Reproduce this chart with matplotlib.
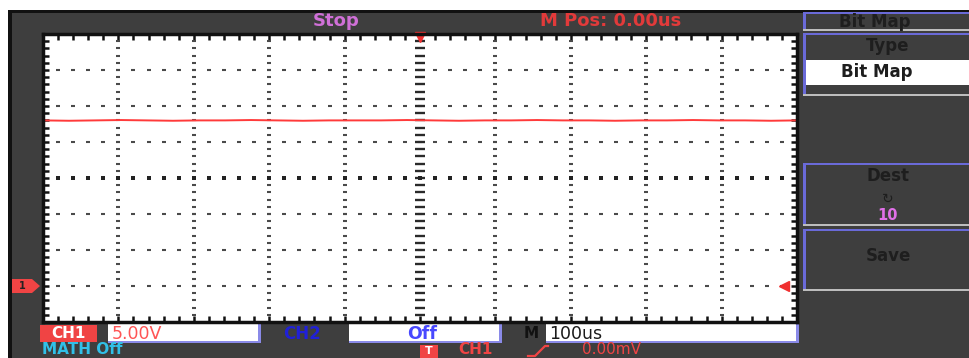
import numpy as np
import matplotlib
matplotlib.use("Agg")
import matplotlib.pyplot as plt
from matplotlib.patches import Rectangle, Polygon

# ---- data (in screen divisions) ----
trace_level = [1.60, 1.59, 1.60, 1.61, 1.60, 1.59, 1.60, 1.60, 1.61, 1.60,
               1.59, 1.60, 1.60, 1.60, 1.61, 1.60, 1.59, 1.60, 1.60, 1.61,
               1.60, 1.60, 1.59, 1.60, 1.60, 1.61, 1.60, 1.60, 1.59, 1.60]
ch1_ground_div = -3.0
trigger_pos_div = 0.0
status_text = "Stop"
mpos_text = "M Pos: 0.00us"
ch1_scale = "5.00V"
ch2_state = "Off"
timebase = "100us"
math_state = "MATH Off"
trig_level = "0.00mV"
menu_title = "Bit Map"
menu_items = ["Type", "Bit Map", "Dest", "10", "Save"]

W, H = 970, 358
fig = plt.figure(figsize=(W / 100, H / 100), dpi=100)
fig.patch.set_facecolor("white")

bg = fig.add_axes([0, 0, 1, 1])
bg.set_xlim(0, W)
bg.set_ylim(H, 0)
bg.axis("off")

DARK = "#3e3e3e"
bg.add_patch(Rectangle((8, 10), W - 8, H - 10, facecolor=DARK, edgecolor="none"))
bg.add_patch(Rectangle((8, 10), 4, H - 10, facecolor="#111111", edgecolor="none"))
bg.add_patch(Rectangle((8, 10), W - 8, 3, facecolor="#111111", edgecolor="none"))

FONT = "DejaVu Sans"
# top status texts
bg.text(313, 21, status_text, color="#d070d8", fontsize=13, family=FONT,
        weight="bold", va="center", ha="left")
bg.text(540, 21, mpos_text, color="#e23a3a", fontsize=13, family=FONT,
        weight="bold", va="center", ha="left")

# right menu
PURPLE = "#6a6ad8"
LIGHT = "#bdbdbd"
def menu_box(y0, y1):
    bg.add_patch(Rectangle((803, y0), W - 803, y1 - y0, facecolor=DARK, edgecolor="none"))
    bg.add_patch(Rectangle((803, y0), W - 803, 2, facecolor=PURPLE, edgecolor="none"))
    bg.add_patch(Rectangle((803, y0), 3, y1 - y0, facecolor=PURPLE, edgecolor="none"))
    bg.add_patch(Rectangle((803, y1 - 2), W - 803, 2, facecolor=LIGHT, edgecolor="none"))

menu_box(12, 31)
menu_box(33, 96)
bg.add_patch(Rectangle((806, 60), W - 806, 25, facecolor="white", edgecolor="none"))
menu_box(163, 226)
menu_box(229, 291)
TXT = "#1e1e1e"
bg.text(875, 22, menu_title, color=TXT, fontsize=12, family=FONT, weight="bold",
        va="center", ha="center")
bg.text(888, 46, menu_items[0], color=TXT, fontsize=12, family=FONT, weight="bold",
        va="center", ha="center")
bg.text(877, 72, menu_items[1], color=TXT, fontsize=12, family=FONT, weight="bold",
        va="center", ha="center")
bg.text(888, 176, menu_items[2], color=TXT, fontsize=12, family=FONT, weight="bold",
        va="center", ha="center")
bg.text(888, 199, "\u21bb", color=TXT, fontsize=10, family=FONT,
        va="center", ha="center")
bg.text(888, 216, menu_items[3], color="#e070e8", fontsize=10.5, family=FONT,
        weight="bold", va="center", ha="center")
bg.text(888, 256, menu_items[4], color=TXT, fontsize=12, family=FONT, weight="bold",
        va="center", ha="center")

# bottom status bar
bg.add_patch(Rectangle((40, 325), 57, 17, facecolor="#f04444", edgecolor="none"))
bg.text(68, 334, "CH1", color="white", fontsize=11, family=FONT, weight="bold",
        va="center", ha="center")
def white_box(x0, x1):
    bg.add_patch(Rectangle((x0, 324), x1 - x0, 19, facecolor="white", edgecolor="none"))
    bg.add_patch(Rectangle((x1 - 3, 324), 3, 19, facecolor="#8a8ae8", edgecolor="none"))
    bg.add_patch(Rectangle((x0, 341), x1 - x0, 2, facecolor="#8a8ae8", edgecolor="none"))
white_box(108, 261)
bg.text(112, 334, ch1_scale, color="#ff5555", fontsize=12.5, family=FONT,
        va="center", ha="left")
bg.text(283, 334, "CH2", color="#2020d8", fontsize=12, family=FONT, weight="bold",
        va="center", ha="left")
white_box(349, 502)
bg.text(422, 334, ch2_state, color="#4848ff", fontsize=12.5, family=FONT, weight="bold",
        va="center", ha="center")
bg.text(524, 334, "M", color="#111111", fontsize=11, family=FONT, weight="bold",
        va="center", ha="left")
white_box(546, 799)
bg.text(549, 334, timebase, color="#1a1a1a", fontsize=12.5, family=FONT,
        va="center", ha="left")

bg.text(42, 350, math_state, color="#30c0e8", fontsize=11, family=FONT,
        weight="bold", va="center", ha="left")
bg.add_patch(Rectangle((420, 345), 18, 13, facecolor="#f04444", edgecolor="none"))
bg.text(429, 351, "T", color="white", fontsize=8, family=FONT, weight="bold",
        va="center", ha="center")
bg.text(458, 350, "CH1", color="#f04444", fontsize=11, family=FONT, weight="bold",
        va="center", ha="left")
bg.plot([528, 535, 545, 548], [356, 356, 346, 346], color="#f04444", lw=1.6)
bg.text(582, 350, trig_level, color="#f04444", fontsize=11, family=FONT,
        va="center", ha="left")

# ---- graticule axes (units: divisions) ----
x0, x1, y0, y1 = 43, 797, 34, 322
ax = fig.add_axes([x0 / W, (H - y1) / H, (x1 - x0) / W, (y1 - y0) / H])
ax.set_xlim(-5, 5)
ax.set_ylim(-4, 4)
ax.set_facecolor("white")
for s in ax.spines.values():
    s.set_color("#111111")
    s.set_linewidth(2.5)
ax.set_xticks([])
ax.set_yticks([])
ax.set_xticks(np.arange(-5, 5.01, 0.2), minor=True)
ax.set_yticks(np.arange(-4, 4.01, 0.2), minor=True)
ax.tick_params(which="minor", direction="in", length=4, width=1.8, color="#111111",
               top=True, bottom=True, left=True, right=True,
               labelbottom=False, labelleft=False)

DOT = "#4a4a4a"
fine_x = np.arange(-4.8, 4.81, 0.2)
fine_y = np.arange(-3.8, 3.81, 0.2)
for gx in range(-4, 5):
    if gx == 0:
        continue
    ax.plot(np.full_like(fine_y, gx), fine_y, ls="none", marker="_", ms=3,
            mew=1.5, color=DOT)
for gy in range(-3, 4):
    if gy == 0:
        continue
    ax.plot(fine_x, np.full_like(fine_x, gy), ls="none", marker="_", ms=3,
            mew=1.5, color=DOT)
# center cross
ax.plot(np.zeros_like(fine_y), fine_y, ls="none", marker="_", ms=7, mew=1.7,
        color="#2a2a2a")
ax.plot(fine_x, np.zeros_like(fine_x), ls="none", marker="s", ms=2.6, mew=0,
        color="#222222")

# trace
tx = np.linspace(-5, 5, len(trace_level))
ax.plot(tx, trace_level, color="#ff3a3a", lw=1.4, solid_capstyle="butt")

# markers
ax.plot([trigger_pos_div], [3.93], marker="v", ms=7, color="#f03030",
        clip_on=False, ls="none")
ax.plot([4.83], [ch1_ground_div], marker="<", ms=7, color="#f03030",
        clip_on=False, ls="none")

# channel 1 ground marker on left
gy_px = y1 - (ch1_ground_div + 4) / 8 * (y1 - y0)
bg.add_patch(Polygon([[12, gy_px - 7], [32, gy_px - 7], [40, gy_px],
                      [32, gy_px + 7], [12, gy_px + 7]], closed=True,
                     facecolor="#f04444", edgecolor="none"))
bg.text(22, gy_px, "1", color="#222222", fontsize=7, family=FONT, weight="bold",
        va="center", ha="center")

fig.savefig("out.png", dpi=100)
